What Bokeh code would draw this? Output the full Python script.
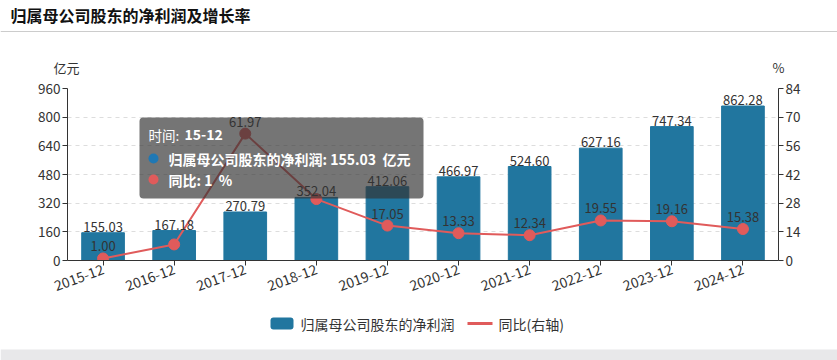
from bokeh.plotting import figure
from bokeh.layouts import column, row
from bokeh.models import (Range1d, LinearAxis, FixedTicker, ColumnDataSource, Label,
                          BoxAnnotation, FactorRange)
from bokeh.embed import file_html
from bokeh.resources import INLINE

categories = ["2015-12", "2016-12", "2017-12", "2018-12", "2019-12",
              "2020-12", "2021-12", "2022-12", "2023-12", "2024-12"]
profit = [155.03, 167.18, 270.79, 352.04, 412.06, 466.97, 524.60, 627.16, 747.34, 862.28]
growth = [1.00, 7.84, 61.97, 30.00, 17.05, 13.33, 12.34, 19.55, 19.16, 15.38]
growth_labels = ["1.00", "", "61.97", "", "17.05", "13.33", "12.34", "19.55", "19.16", "15.38"]
left_ticks = [0, 160, 320, 480, 640, 800, 960]
right_ticks = [0, 14, 28, 42, 56, 70, 84]

FONT = "Noto Sans CJK SC"
BAR = "#21769f"
RED = "#e05b5b"
W = 837
NB = "\u00a0"


def blank(h):
    f = figure(width=W, height=h, x_range=Range1d(0, W), y_range=Range1d(0, h),
               output_backend="svg", toolbar_location=None, min_border=0,
               x_axis_location=None, y_axis_location=None)
    f.xgrid.grid_line_color = None
    f.ygrid.grid_line_color = None
    f.outline_line_color = None
    return f


# ---------- header (page y 0..76) ----------
TH = 76
top = blank(TH)
top.add_layout(Label(x=10, y=TH - 14, text="归属母公司股东的净利润及增长率", text_font=FONT,
                     text_font_size="16px", text_font_style="bold", text_color="#111111",
                     text_baseline="middle"))
top.add_layout(BoxAnnotation(left=0, right=W, bottom=TH - 31.5, top=TH - 30.5,
                             fill_color="#cccccc", fill_alpha=1, line_color=None))
top.add_layout(Label(x=66, y=TH - 67, text="亿元", text_font=FONT, text_font_size="13px",
                     text_color="#333333", text_align="center", text_baseline="middle"))
top.add_layout(Label(x=778, y=TH - 67, text="%", text_font=FONT, text_font_size="13px",
                     text_color="#333333", text_align="center", text_baseline="middle"))

# ---------- main chart (page y 76..304) ----------
src = ColumnDataSource(dict(
    cat=categories, profit=profit, growth=growth,
    plabel=["%.2f" % v for v in profit], glabel=growth_labels,
))

p = figure(width=W, height=228, x_range=FactorRange(*categories),
           y_range=Range1d(0, 960), output_backend="svg", toolbar_location=None,
           min_border_left=67, min_border_right=59, min_border_top=12, min_border_bottom=44)
p.outline_line_color = None
p.extra_y_ranges = {"pct": Range1d(0, 84)}

p.vbar(x="cat", top="profit", width=0.6, source=src, color=BAR)
p.line(x="cat", y="growth", source=src, y_range_name="pct", line_color=RED, line_width=2)
p.scatter(x="cat", y="growth", source=src, y_range_name="pct", size=11,
          fill_color=RED, line_color=RED)

p.text(x="cat", y="profit", text="plabel", source=src, text_align="center",
       text_baseline="bottom", y_offset=-1, text_font_size="13px", text_color="#333333",
       text_font={"value": FONT})
p.text(x="cat", y="growth", text="glabel", source=src, y_range_name="pct",
       text_align="center", text_baseline="bottom", y_offset=-7, text_font_size="13px",
       text_color="#333333", text_font={"value": FONT})

xa = p.xaxis[0]
xa.major_label_orientation = 0.35
xa.major_label_text_font = FONT
xa.major_label_text_font_size = "14px"
xa.major_label_text_color = "#333333"
xa.axis_line_color = "#333333"
xa.major_tick_line_color = "#333333"
xa.major_tick_out = 5
xa.major_tick_in = 0
xa.minor_tick_line_color = None
xa.major_label_standoff = 3

ya = p.yaxis[0]
ya.ticker = FixedTicker(ticks=left_ticks)
ra = LinearAxis(y_range_name="pct", ticker=FixedTicker(ticks=right_ticks))
p.add_layout(ra, "right")
for ax in (ya, ra):
    ax.major_label_text_font = FONT
    ax.major_label_text_font_size = "13.5px"
    ax.major_label_text_color = "#333333"
    ax.axis_line_color = "#333333"
    ax.major_tick_line_color = "#333333"
    ax.major_tick_out = 5
    ax.major_tick_in = 0
    ax.minor_tick_line_color = None
    ax.major_label_standoff = 2

p.xgrid.grid_line_color = None
p.ygrid.grid_line_color = "#dddddd"
p.ygrid.grid_line_dash = "4 4"
p.ygrid.ticker = FixedTicker(ticks=left_ticks)

# tooltip overlay (frame-relative screen units)
def sbox(l, r, b, t, color, alpha, radius):
    p.add_layout(BoxAnnotation(left=l, right=r, bottom=b, top=t,
                               left_units="screen", right_units="screen",
                               bottom_units="screen", top_units="screen",
                               fill_color=color, fill_alpha=alpha, line_color=None,
                               border_radius=radius, level="overlay"))

def tlabel(x, y, t, bold=True, size="14px"):
    p.add_layout(Label(x=x, y=y, x_units="screen", y_units="screen", text=t,
                       text_font=FONT, text_font_size=size, text_color="white",
                       text_font_style="bold" if bold else "normal",
                       text_baseline="middle", level="overlay"))

sbox(72, 356, 62, 143, "#333333", 0.68, 4)
tlabel(81, 126, "时间:", bold=False, size="13.5px")
tlabel(117, 126, "15-12")
tlabel(101, 102, "归属母公司股东的净利润: 155.03" + NB + NB + "亿元")
tlabel(101, 81, "同比: 1" + NB + NB + "%")
sbox(81, 91, 97, 107, "#1f78b4", 1, 5)
sbox(81, 91, 76, 86, RED, 1, 5)

# ---------- legend (page y 304..360) ----------
leg = blank(56)
leg.add_layout(BoxAnnotation(left=270, right=293, bottom=31, top=43, fill_color=BAR,
                             fill_alpha=1, line_color=None, border_radius=3))
leg.add_layout(Label(x=300, y=37, text="归属母公司股东的净利润", text_font=FONT,
                     text_font_size="14px", text_color="#333333", text_baseline="middle"))
leg.add_layout(BoxAnnotation(left=467, right=492, bottom=35.5, top=38.5, fill_color=RED,
                             fill_alpha=1, line_color=None))
leg.add_layout(Label(x=498, y=37, text="同比(右轴)", text_font=FONT,
                     text_font_size="14px", text_color="#333333", text_baseline="middle"))
leg.add_layout(BoxAnnotation(left=0, right=W, bottom=0, top=11, fill_color="#e8e8ea",
                             fill_alpha=1, line_color=None))

layout = column(row(top), p, row(leg), spacing=0)
open("out.html", "w").write(file_html(layout, INLINE))
